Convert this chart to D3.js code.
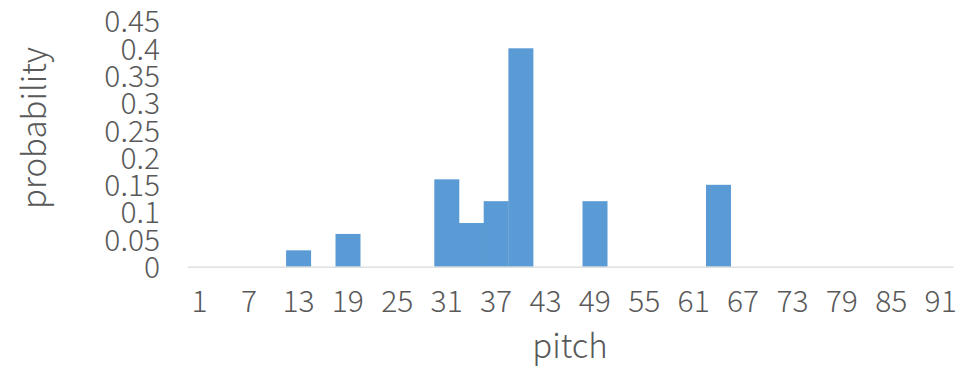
<!DOCTYPE html>
<html>
<head>
<meta charset="utf-8">
<script src="https://cdn.jsdelivr.net/npm/d3@7/dist/d3.min.js"></script>
<style>
  html, body { margin: 0; padding: 0; background: #fff; }
  svg text { font-family: "Noto Sans CJK SC", "Noto Sans", sans-serif; font-weight: 300; fill: #595959; }
</style>
</head>
<body>
<svg id="chart" width="974" height="368"></svg>
<script>
// Pitch bins (step 3) and the probability of each bin
const pitches = [1, 4, 7, 10, 13, 16, 19, 22, 25, 28, 31, 34, 37, 40, 43, 46,
                 49, 52, 55, 58, 61, 64, 67, 70, 73, 76, 79, 82, 85, 88, 91];
const probabilities = [0, 0, 0, 0, 0.03, 0, 0.06, 0, 0, 0, 0.16, 0.08, 0.12, 0.4, 0, 0,
                       0.12, 0, 0, 0, 0, 0.15, 0, 0, 0, 0, 0, 0, 0, 0, 0];
// Every other bin gets a label on the x axis
const xTickLabels = pitches.filter((d, i) => i % 2 === 0);
const yTicks = [0, 0.05, 0.1, 0.15, 0.2, 0.25, 0.3, 0.35, 0.4, 0.45];

const svg = d3.select("#chart");
const plot = { left: 187.3, right: 953, top: 21, bottom: 266.7 };

const x = d3.scaleBand()
  .domain(pitches)
  .range([plot.left, plot.right])
  .padding(0);

const y = d3.scaleLinear()
  .domain([0, 0.45])
  .range([plot.bottom, plot.top]);

// Bars
svg.append("g")
  .selectAll("rect")
  .data(pitches.map((p, i) => ({ p, v: probabilities[i] })).filter(d => d.v > 0))
  .join("rect")
  .attr("x", d => x(d.p))
  .attr("y", d => y(d.v))
  .attr("width", x.bandwidth() + 0.3)
  .attr("height", d => y(0) - y(d.v))
  .attr("fill", "#5B9BD5");

// X axis
const xAxis = svg.append("g")
  .attr("transform", `translate(0,${plot.bottom})`)
  .call(d3.axisBottom(x).tickValues(xTickLabels).tickSize(0).tickPadding(24));
xAxis.select(".domain").attr("stroke", "#D9D9D9").attr("stroke-width", 1.3);
xAxis.selectAll("text").attr("font-size", 30).style("fill", "#595959");

// Y axis (labels only)
const yAxis = svg.append("g")
  .attr("transform", `translate(${160},0)`)
  .call(d3.axisLeft(y).tickValues(yTicks).tickSize(0).tickPadding(0)
    .tickFormat(d => String(+d.toFixed(2))));
yAxis.select(".domain").remove();
yAxis.selectAll("text").attr("font-size", 30).attr("dy", "0.36em").style("fill", "#595959");

// Axis titles
svg.append("text")
  .attr("x", 570)
  .attr("y", 358)
  .attr("text-anchor", "middle")
  .attr("font-size", 33)
  .text("pitch");

svg.append("text")
  .attr("transform", "translate(46,128) rotate(-90)")
  .attr("text-anchor", "middle")
  .attr("font-size", 33)
  .text("probability");
</script>
</body>
</html>
